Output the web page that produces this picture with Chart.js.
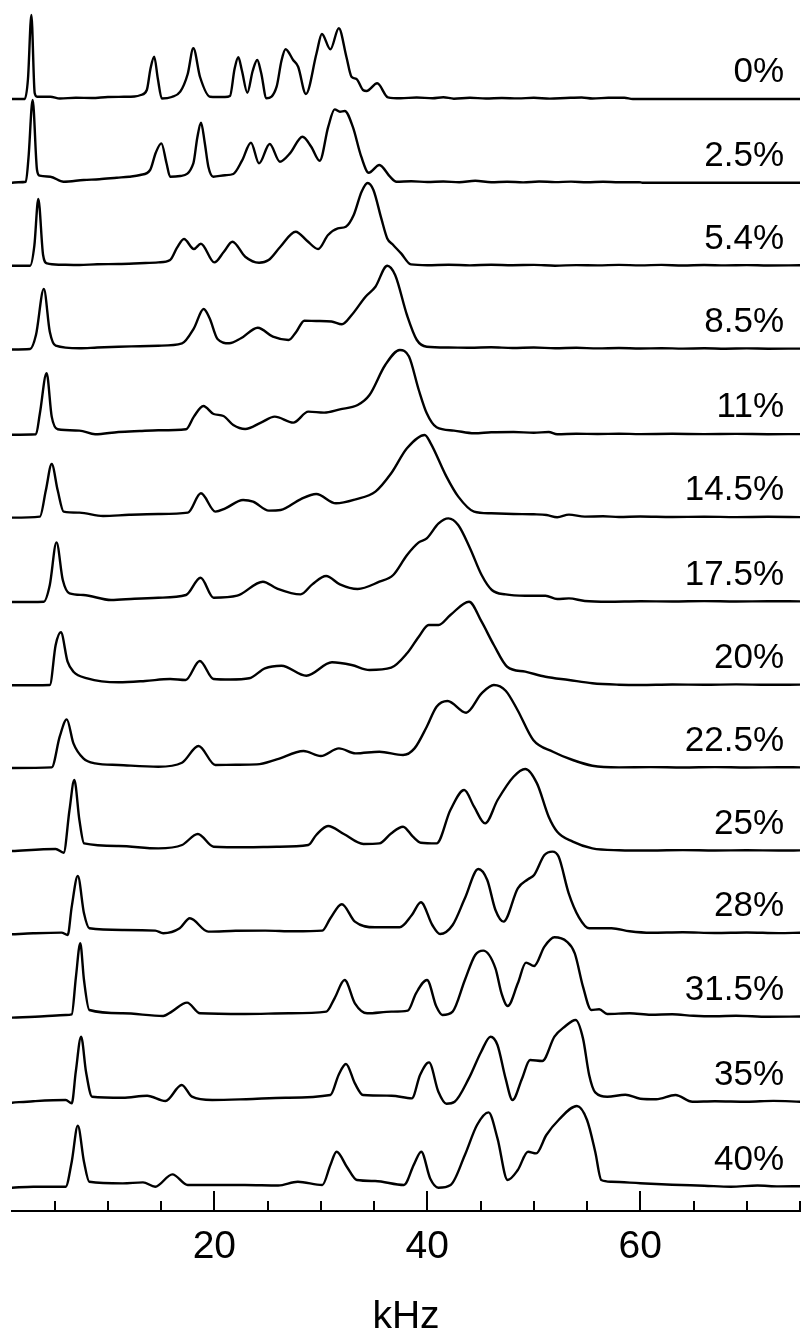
<!DOCTYPE html>
<html><head><meta charset="utf-8">
<script src="https://cdn.jsdelivr.net/npm/chart.js@4"></script>
<style>html,body{margin:0;padding:0;background:#fff;overflow:hidden}#wrap{width:804px;height:1337px;position:relative}</style>
</head><body><div id="wrap"><canvas id="c"></canvas></div>
<script>
// ---- data: [kHz, intensity above the trace baseline] ----
const seriesLabels = ['0%','2.5%','5.4%','8.5%','11%','14.5%','17.5%','20%','22.5%','25%','28%','31.5%','35%','40%'];
const majorTicks = [20,40,60];
const axisTitle = 'kHz';

const p00 = [[1.0,0],[2.2,0],[2.5,20],[2.82,84],[3.13,6],[3.35,2.3],[4.6,2.3],[5.5,0.5],[7,1.3],[8.5,1.0],[10,2],[11.5,2.2],[12.5,2.5],[13.1,4],[13.66,9],[14.0,30],[14.35,42.3],[14.7,20],[15.07,0.5],[16,2],[16.8,7.3],[17.5,25],[18.03,50.7],[18.66,22],[19.6,2.3],[21.0,2],[21.47,3],[21.9,30],[22.25,41.7],[22.6,28],[23.1,6.3],[23.6,28],[24.03,39],[24.4,26],[24.9,0.7],[25.85,12.3],[26.3,38],[26.69,49.7],[27.4,39],[27.87,32.3],[28.6,5],[29.6,45.7],[30.1,65],[30.9,49.7],[31.69,70.7],[32.4,42.3],[32.88,22.3],[33.35,20],[33.96,9],[34.3,8],[35.3,15.7],[36.3,1.7],[37.5,0.7],[39,1.5],[40.5,0.8],[41.5,1.8],[42.5,0.3],[44,1.2],[45.5,0.5],[47,1.0],[48.5,0.6],[50,1.2],[51.5,0.4],[53,1.0],[54.5,1.5],[55.5,0.5],[57,1.2],[58.5,1.3],[59.3,0],[75,0]];
const p025 = [[1.0,0],[1.6,0.5],[2.3,1],[2.55,25],[2.94,82.7],[3.35,12.7],[3.6,7],[4.6,6],[5.85,1],[7.72,2.7],[9.2,3.5],[10.85,5],[12,6],[13.04,7.7],[13.97,12.7],[14.5,30],[15.03,39.3],[15.5,20],[15.85,6],[16.8,6.7],[18.03,19.3],[18.4,45],[18.75,60],[19.1,40],[19.44,16],[19.9,6],[21.0,7.5],[21.78,8.7],[22.6,22],[23.44,40],[24.2,19.3],[25.2,38.7],[26.16,21],[27.1,29.3],[28.28,46],[29.1,36],[29.9,22],[30.7,56],[31.3,73.3],[31.8,71],[32.25,71.7],[33.0,56],[33.8,26],[34.5,10],[35.5,17.7],[36.5,6],[37.1,1],[38.5,1.5],[40,0.7],[41.5,1.2],[43,0.5],[44.5,2],[46,0.5],[47.5,1],[49,0.3],[50.5,1.2],[52,0.6],[53.5,1.1],[55,0.4],[56.5,1],[58,0.5],[59.9,0.5],[60.2,0],[75,0]];
const p054 = [[1.0,0],[2.7,0],[3.1,20],[3.47,66.7],[3.92,10.7],[4.29,2.3],[5.5,1],[7.33,0.7],[9,1.5],[11,1.7],[13,2.5],[14.74,3.3],[15.85,5.7],[16.5,18],[17.15,26.7],[18.08,16.7],[18.74,22],[20.0,3.3],[20.9,14],[21.7,24],[22.9,9],[24.2,3],[25.1,5.7],[26.2,19],[27.64,34],[28.7,25],[29.75,16.7],[30.68,30.7],[31.6,37.3],[32.35,39],[33.09,50.7],[33.83,74],[34.4,82.7],[34.94,75.7],[35.68,47.3],[36.24,27.3],[36.8,20.7],[37.54,12.3],[38.46,1.3],[40,0.5],[42,1],[44,0.3],[46,1],[48,0.5],[50,0.8],[52,0],[54,0.6],[56,0.3],[58,0.8],[60,0.3],[62,0.8],[64,0.2],[66,0.7],[68,0.3],[70,0.6],[72,0.2],[75,0.4]];
const p085 = [[1.0,-0.5],[2.7,0],[3.25,14],[3.99,60],[4.55,17.3],[5.1,3.3],[7.33,0.7],[9,1.5],[11,2.3],[13,2.8],[14.74,3.3],[16.97,5.7],[18.08,20.7],[19.0,40],[19.56,30.7],[20.3,10],[21.4,5.7],[22.5,10.7],[24.08,21.3],[25.5,12.3],[26.97,9],[27.7,17.3],[28.45,28.3],[29.57,28],[31.0,27.5],[31.98,24.7],[32.9,34],[34.2,52.3],[35.13,62.3],[36.24,83.3],[36.98,74],[38.09,34],[39.02,9],[39.95,2.3],[42,1.5],[44,1.2],[46,1.8],[48,1],[50,1.5],[52,0.8],[54,1.2],[56,0.6],[58,1],[60,0.5],[62,0.8],[64,0.4],[66,0.7],[68,0.3],[70,0.6],[72,0.3],[75,0.4]];
const p110 = [[1.0,-0.5],[3.25,0],[3.62,21],[4.25,61],[4.73,17.7],[5.29,5],[7.33,3.7],[8.81,0],[11,2.3],[13,3.3],[14.74,4],[17.34,5],[18.08,17.7],[18.97,28.3],[19.93,20.3],[20.86,18.3],[21.78,9.3],[22.9,5.3],[24.38,11.7],[25.67,17.7],[27.42,11.7],[28.83,22.7],[30.31,21.7],[31.79,25],[33.46,29.3],[34.57,39.3],[36.05,69.3],[37.42,84.3],[38.28,77.7],[39.2,44.3],[39.95,21],[40.87,7],[42.5,3.7],[44.4,1],[46,2],[48.1,2.3],[50,1.5],[51.4,2.3],[52.2,0],[54,0.5],[56,0.3],[58,0.6],[60,0.2],[63,0.5],[66,0.2],[69,0.4],[72,0.1],[75,0.2]];
const p145 = [[1.0,-0.3],[3.62,0.7],[4.18,27],[4.73,53.3],[5.29,27],[5.85,5.7],[7.33,4.7],[9.55,1.3],[12,2.5],[14.74,3.3],[17.52,4.7],[18.74,24],[20.1,5.7],[21.04,9],[22.7,17.3],[23.64,15.7],[25.12,6.7],[26.23,7.3],[28.09,18],[29.57,23.3],[31.42,14],[33.27,18],[35.13,25.7],[36.61,44],[38.09,69],[39.76,82.3],[40.32,74],[41.8,40.7],[42.91,20.7],[44.39,5.7],[46,4],[48.1,3.3],[50,3],[51.2,2.3],[52.2,0],[53.3,2.7],[54.8,0.7],[56.5,1],[58,0.3],[60,0.8],[63,0.3],[66,0.6],[69,0.2],[72,0.5],[75,0.2]];
const p175 = [[1.0,-0.3],[3.99,0],[4.55,16.7],[5.18,59.3],[5.77,21.7],[6.4,8.3],[7.7,6.7],[10.3,1.7],[12.5,3],[14.74,4],[17.34,6.7],[18.71,24],[19.93,4],[22.15,6],[24.56,20],[25.86,13.3],[28.1,7.3],[29.2,17.3],[30.5,25.7],[31.79,17.3],[33.46,12.7],[35.5,20],[36.8,26.7],[38.1,46.7],[39.2,59.3],[39.95,63.3],[41.06,78.3],[41.98,83.3],[42.9,76.7],[44.02,53.3],[45.1,26.7],[46.06,11.7],[47.36,7.3],[49.2,6],[51.1,6],[52.2,2.7],[53.3,3.3],[54.8,0.7],[57,0],[60,0.5],[63,0.2],[66,0.6],[69,0.2],[72,0.5],[75,0.3]];
const p200 = [[1.0,-0.3],[4.55,0],[5.1,40],[5.59,52.7],[6.22,23.3],[6.77,13.3],[8.07,6.7],[11.0,2.7],[13.5,4],[15.85,6],[17.3,5],[18.63,24],[19.93,6],[21.5,5.5],[23.27,6.7],[24.75,16.7],[26.3,19.3],[28.64,9.3],[31.05,22.7],[32.9,20],[34.57,15],[36.61,17.3],[38.1,31.7],[39.2,48.3],[40.13,60],[41.06,60],[42.17,70],[43.92,83.3],[45.1,63.3],[46.25,40],[47.5,18.3],[49.2,13.3],[51.1,8.3],[53.3,5],[55.5,1.7],[58,0.3],[60,0],[63,0.5],[66,0.2],[69,0.6],[72,0.2],[75,0.4]];
const p225 = [[1.0,-0.3],[4.73,0.3],[5.48,31],[6.14,48.3],[6.77,24.3],[7.7,9.3],[8.81,4.3],[11.0,2.7],[14.74,1],[16.96,5],[18.52,21.7],[20.1,2.7],[22,3],[24.0,3.3],[25.86,8.3],[28.38,16.7],[30.0,11.7],[31.7,19.3],[33.27,14.3],[35.5,16],[37.72,12.7],[38.8,19.3],[39.95,41],[40.87,61],[41.9,66.7],[43.65,55],[45.1,74.3],[46.25,82.7],[47.36,77],[48.47,57.7],[49.95,27.7],[51.8,16],[53.66,7.7],[55.5,2],[58,0.3],[61,0.6],[64,0.2],[67,0.6],[70,0.2],[73,0.5],[75,0.3]];
const p250 = [[1.0,-0.3],[5.1,1.7],[5.85,-2],[6.4,40.7],[6.85,70.7],[7.33,30.7],[7.77,7.3],[11.0,4.7],[14.74,2.3],[16.97,5.7],[18.45,16.7],[19.93,4],[23,3.5],[25.86,4],[28.83,5.7],[29.57,15.7],[30.68,24.7],[32.16,16.7],[34.0,6.7],[35.5,7.3],[36.6,17.3],[37.72,24],[38.65,14],[39.39,8],[40.87,7.3],[42.17,40.7],[43.47,60.7],[44.39,44],[45.43,27.3],[46.6,50.7],[48.1,74],[49.2,81.7],[50.3,67.3],[51.4,34],[52.2,19],[53.66,9],[55.5,2.3],[58,0.5],[61,0.2],[64,0.6],[67,0.2],[70,0.5],[73,0.2],[75,0.3]];
const p280 = [[1.0,-1],[3,0],[5.65,0.7],[6.23,-1.7],[6.61,26.7],[7.18,57.3],[7.76,20],[8.26,5],[11.4,3.3],[14.45,2.7],[15.2,0],[16.75,5],[17.7,15],[19.43,1.7],[22,2.5],[24.78,2.7],[27.5,2],[30.14,2.7],[30.9,15],[31.97,29],[33.2,11.7],[35.1,6],[37.4,6],[38.55,18.3],[39.4,31],[40.47,8.3],[41.2,-0.7],[42.38,8.3],[43.53,35],[44.79,64.3],[45.63,53.3],[46.4,23.3],[47.16,11.7],[48.5,45],[49.46,54],[50.03,58.3],[51.0,78.3],[51.75,81.7],[52.33,76.7],[53.28,40],[54.24,16],[55.2,5],[57.3,5],[59,2],[61,0.5],[64,1],[67,0.3],[70,0.8],[73,0.2],[75,0.5]];
const p315 = [[1.0,-0.3],[4,1],[6.04,2.3],[6.61,3],[7.0,40],[7.41,74],[7.76,37.3],[8.26,7.3],[11.4,4],[15.2,1.3],[16.0,5.7],[17.44,14.7],[18.66,4],[22.87,3.3],[27,4],[30.52,5.7],[31.29,19],[32.24,37.3],[33.2,14],[34.35,4],[36.64,5.7],[38.17,6.7],[38.94,24],[39.97,37.3],[40.85,10.7],[41.42,2.3],[42.38,5.7],[43.53,37.3],[44.5,62.3],[45.25,66.7],[46.4,49],[46.97,24],[47.55,11.3],[48.5,34],[49.27,54.7],[50.03,51.3],[51.0,70.7],[51.94,80],[53.1,75.7],[53.85,64],[54.62,30.7],[55.4,7.3],[56.15,8],[56.9,3.3],[59,4],[61,2.5],[63,3],[65,1.5],[67,1],[69,1.5],[72,0.5],[75,0.8]];
const p350 = [[1.0,-1],[3,0.5],[6.04,1.7],[6.61,-1.7],[6.99,30],[7.49,65],[7.95,30],[8.52,5],[11.4,4],[13.69,6],[15.41,0.7],[16.94,16.7],[17.9,5],[19.8,1.7],[23,2.5],[26.7,4],[30.9,6.7],[31.67,26.7],[32.36,37.7],[33.2,18.3],[33.96,6.7],[36.64,6],[38.55,3.3],[39.32,26.7],[40.16,39.3],[41.04,10],[41.8,-2],[42.57,0],[43.9,23.3],[45.06,50],[45.94,65],[46.59,56.7],[47.35,23.3],[48.0,1.7],[48.9,23.3],[49.65,41.7],[50.8,40.7],[51.94,65],[52.9,75],[53.93,81.7],[54.62,63.3],[55.2,26.7],[55.77,9.3],[56.9,5],[58.6,7],[60,3],[61.5,2.5],[63.3,6.7],[64.9,0],[67,0.5],[70,0],[72.5,0.8],[75,0]];
const p400 = [[1.0,-1],[3,0],[6.04,0],[6.61,25],[7.18,61],[7.76,25],[8.26,5],[11.4,3.3],[13.3,4.3],[14.45,0],[16.06,12.3],[17.5,1.7],[22.87,1.7],[26,1.2],[27.84,5],[30.14,1.7],[30.9,21.7],[31.48,35],[32.44,20],[33.39,6.7],[35.1,5.7],[37.8,1.7],[38.75,22.3],[39.43,35],[40.27,8.3],[41.04,-1],[42.19,1.7],[43.53,31.7],[44.67,61.7],[45.75,74.3],[46.59,48.3],[47.54,6.7],[48.5,16.7],[49.46,35],[50.22,33.3],[51.18,51.7],[52.33,66.7],[54.05,80.7],[55.0,66.7],[55.77,35],[56.34,6.7],[57.3,5],[60,3.5],[63,2],[66,1],[68.5,0],[71,1.2],[73,0.3],[75,0.5]];

const spectra = [p00,p025,p054,p085,p110,p145,p175,p200,p225,p250,p280,p315,p350,p400];

// ---- layout (pixels) ----
const W = 804, H = 1337;
const AXIS_Y = 1211;          // x-axis line
const BASELINES = [99,182.7,265.7,349,434.3,517.3,601.7,685,767.7,850.7,933.3,1017.3,1101.7,1186.7];
const LABEL_RIGHT = 784, LABEL_LIFT = 17;
const baseOf = i => AXIS_Y - BASELINES[i];
const FONT = '"Liberation Sans", Arial, Helvetica, sans-serif';

Chart.defaults.font.family = FONT;
Chart.defaults.color = '#000';

const datasets = spectra.map((pts, i) => ({
  label: seriesLabels[i],
  data: pts.map(([x, h]) => ({x, y: baseOf(i) + h})),
  borderColor: '#000',
  borderWidth: 2.4,
  pointRadius: 0,
  fill: false,
  cubicInterpolationMode: 'monotone',
  borderJoinStyle: 'round',
  borderCapStyle: 'round'
}));

const tickMarks = {
  id: 'tickMarks',
  afterDraw(chart) {
    const xs = chart.scales.x, ctx = chart.ctx;
    const y0 = xs.top;
    ctx.save();
    ctx.strokeStyle = '#000';
    ctx.lineWidth = 2;
    xs.ticks.forEach(t => {
      if (t.value % 5 !== 0) return;
      const px = Math.round(xs.getPixelForValue(t.value));
      const len = majorTicks.includes(t.value) ? 20 : 10;
      ctx.beginPath();
      ctx.moveTo(px, y0);
      ctx.lineTo(px, y0 - len);
      ctx.stroke();
    });
    ctx.restore();
  }
};

const traceLabels = {
  id: 'traceLabels',
  afterDatasetsDraw(chart) {
    const ys = chart.scales.y, ctx = chart.ctx;
    ctx.save();
    ctx.font = '35px ' + FONT;
    ctx.fillStyle = '#000';
    ctx.textAlign = 'right';
    ctx.textBaseline = 'alphabetic';
    seriesLabels.forEach((s, i) => {
      ctx.fillText(s, LABEL_RIGHT, ys.getPixelForValue(baseOf(i)) - LABEL_LIFT);
    });
    ctx.restore();
  }
};

new Chart(document.getElementById('c'), {
  type: 'line',
  data: { datasets },
  options: {
    responsive: true,
    maintainAspectRatio: false,
    animation: false,
    events: [],
    layout: { padding: { left: 12, right: 4, top: 0, bottom: 0 } },
    plugins: { legend: { display: false }, tooltip: { enabled: false } },
    scales: {
      x: {
        type: 'linear',
        position: 'bottom',
        min: 1, max: 75,
        grid: { display: false, drawTicks: false },
        border: { display: true, color: '#000', width: 2 },
        ticks: {
          stepSize: 5, autoSkip: false, maxRotation: 0, minRotation: 0,
          includeBounds: false, padding: 13,
          font: { size: 39 }, color: '#000',
          callback: v => majorTicks.includes(v) ? String(v) : ''
        },
        title: {
          display: true, text: axisTitle, color: '#000',
          font: { size: 39, lineHeight: 1 }, padding: { top: 0, bottom: 0 }
        },
        afterFit: s => { s.height = H - AXIS_Y; s.paddingLeft = 0; s.paddingRight = 0; }
      },
      y: {
        type: 'linear', display: false, min: 0, max: AXIS_Y
      }
    }
  },
  plugins: [tickMarks, traceLabels]
});
</script>
</body></html>
